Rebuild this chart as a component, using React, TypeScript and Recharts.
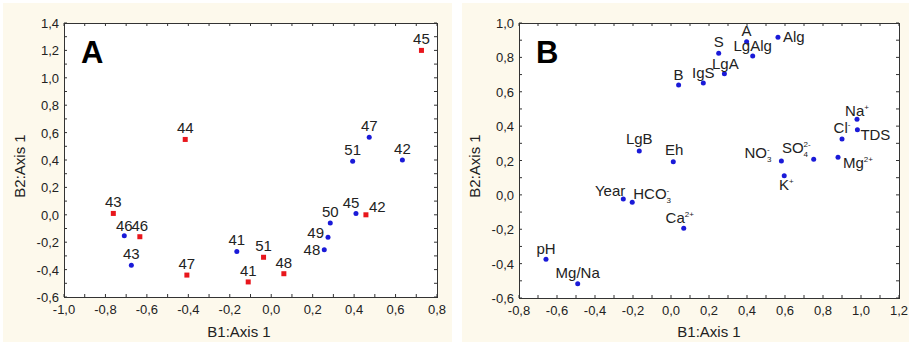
import React from "react";
import { Scatter, ScatterChart, XAxis, YAxis } from "recharts";

// Panel A: sample scores (red squares / blue circles)
const A_RED_LABELS = ["45", "44", "43", "46", "47", "41", "51", "48", "42"];
const A_RED_X = [0.725, -0.415, -0.762, -0.634, -0.407, -0.111, -0.037, 0.061, 0.457];
const A_RED_Y = [1.2, 0.55, 0.01, -0.16, -0.44, -0.49, -0.31, -0.43, 0.0];

const A_BLUE_LABELS = ["47", "51", "42", "46", "43", "41", "50", "49", "48", "45"];
const A_BLUE_X = [0.473, 0.393, 0.633, -0.709, -0.675, -0.166, 0.285, 0.274, 0.256, 0.409];
const A_BLUE_Y = [0.566, 0.39, 0.4, -0.153, -0.369, -0.267, -0.06, -0.164, -0.255, 0.01];

// Panel B: variable loadings
const B_LABELS = ["A", "S", "LgAlg", "Alg", "LgA", "IgS", "B", "Na", "TDS", "Cl", "LgB", "Eh", "NO", "SO", "Mg", "K", "Year", "HCO", "Ca", "pH", "Mg/Na"];
const B_SUB = ["", "", "", "", "", "", "", "", "", "", "", "", "3", "4", "", "", "", "3", "", "", ""];
const B_SUP = ["", "", "", "", "", "", "", "+", "", "-", "", "", "-", "2-", "2+", "+", "", "-", "2+", "", ""];
const B_X = [0.398, 0.251, 0.43, 0.563, 0.281, 0.17, 0.04, 0.979, 0.981, 0.9, -0.167, 0.012, 0.581, 0.751, 0.879, 0.596, -0.251, -0.204, 0.067, -0.658, -0.491];
const B_Y = [0.891, 0.824, 0.808, 0.917, 0.705, 0.651, 0.639, 0.44, 0.379, 0.325, 0.255, 0.193, 0.197, 0.207, 0.219, 0.112, -0.024, -0.043, -0.194, -0.375, -0.517];

// axis ticks
const A_X_TICKS = [-1.0, -0.9, -0.8, -0.7, -0.6, -0.5, -0.4, -0.3, -0.2, -0.1, 0.0, 0.1, 0.2, 0.3, 0.4, 0.5, 0.6, 0.7, 0.8];
const A_Y_TICKS = [-0.6, -0.5, -0.4, -0.3, -0.2, -0.1, 0.0, 0.1, 0.2, 0.3, 0.4, 0.5, 0.6, 0.7, 0.8, 0.9, 1.0, 1.1, 1.2, 1.3, 1.4];
const B_X_TICKS = [-0.8, -0.7, -0.6, -0.5, -0.4, -0.3, -0.2, -0.1, 0.0, 0.1, 0.2, 0.3, 0.4, 0.5, 0.6, 0.7, 0.8, 0.9, 1.0, 1.1, 1.2];
const B_Y_TICKS = [-0.6, -0.5, -0.4, -0.3, -0.2, -0.1, 0.0, 0.1, 0.2, 0.3, 0.4, 0.5, 0.6, 0.7, 0.8, 0.9, 1.0];

const FONT = '"Liberation Sans", Arial, sans-serif';
const RED = "#e8161c";
const BLUE = "#1a1ad8";
const INK = "#222";
const CREAM = "#fdf9ec";

type Place = [string, number, number]; // anchor, dx, dy
const TOP: Place = ["middle", 0, -6];

const A_RED_PLACE: Place[] = [TOP, TOP, TOP, TOP, TOP, TOP, TOP, TOP, ["start", 3, -3]];
const A_BLUE_PLACE: Place[] = [TOP, TOP, TOP, ["middle", 0, -5], TOP, TOP, TOP, ["end", -4, 1], ["end", -4, 5], ["middle", -5, -5]];
const B_PLACE: Place[] = [
  TOP, TOP, ["middle", 0, -5], ["start", 5, 5], ["middle", 1, -5], ["middle", 0, -5], ["middle", 0, -5],
  ["middle", 0, -3], ["start", 3, 10], TOP, ["middle", 0, -7], ["middle", 1, -7], ["end", -10, -3],
  ["end", -3, -6], ["start", 5, 11], ["middle", 2, 14], ["end", 2, -3], ["start", 1, -3],
  ["middle", -4, -5], ["middle", 0, -5], TOP,
];

const fmt = (v: number) => {
  const r = Math.round(v * 10) / 10;
  return (Math.abs(r) < 1e-9 ? 0 : r).toFixed(1).replace(".", ",");
};
const labelled = (v: number) => Math.abs(Math.round(v * 10)) % 2 === 0;

const makeXTick = (plotH: number) => (props: any) => {
  const { x, y, payload } = props;
  return (
    <g>
      <line x1={x} x2={x} y1={y} y2={y - 3} stroke="#333" />
      <line x1={x} x2={x} y1={y - plotH} y2={y - plotH + 3} stroke="#333" />
      {labelled(payload.value) && (
        <text x={x} y={y + 17} textAnchor="middle" fontSize={13} fill={INK} fontFamily={FONT}>
          {fmt(payload.value)}
        </text>
      )}
    </g>
  );
};

const makeYTick = (plotW: number) => (props: any) => {
  const { x, y, payload } = props;
  return (
    <g>
      <line x1={x} x2={x + 3} y1={y} y2={y} stroke="#333" />
      <line x1={x + plotW} x2={x + plotW - 3} y1={y} y2={y} stroke="#333" />
      {labelled(payload.value) && (
        <text x={x - 5} y={y + 5} textAnchor="end" fontSize={13} fill={INK} fontFamily={FONT}>
          {fmt(payload.value)}
        </text>
      )}
    </g>
  );
};

interface Pt {
  x: number;
  y: number;
  label: string;
  sub: string;
  sup: string;
  place: Place;
}

function LabelText({ p }: { p: Pt }) {
  const small = 8;
  return (
    <>
      {p.label}
      {p.sub && <tspan fontSize={small} dy={4}>{p.sub}</tspan>}
      {p.sub && p.sup && <tspan fontSize={small} dx={-4.5} dy={-10}>{p.sup}</tspan>}
      {!p.sub && p.sup && <tspan fontSize={small} dy={-6}>{p.sup}</tspan>}
    </>
  );
}

const makeShape = (kind: "square" | "circle", color: string) => (props: any) => {
  const { cx, cy, payload } = props;
  const p = payload as Pt;
  const [anchor, dx, dy] = p.place;
  return (
    <g>
      {kind === "square" ? (
        <rect x={cx - 2.5} y={cy - 2.5} width={5} height={5} fill={color} />
      ) : (
        <circle cx={cx} cy={cy} r={2.5} fill={color} />
      )}
      <text x={cx + dx} y={cy + dy} textAnchor={anchor as any} fontSize={15} fill={INK} fontFamily={FONT}>
        <LabelText p={p} />
      </text>
    </g>
  );
};

const build = (labels: string[], xs: number[], ys: number[], places: Place[], subs?: string[], sups?: string[]): Pt[] =>
  labels.map((label, i) => ({
    x: xs[i],
    y: ys[i],
    label,
    sub: subs ? subs[i] : "",
    sup: sups ? sups[i] : "",
    place: places[i],
  }));

interface SeriesDef {
  name: string;
  data: Pt[];
  kind: "square" | "circle";
  color: string;
}

interface PanelProps {
  left: number;
  width: number;
  margin: { top: number; right: number; bottom: number; left: number };
  xDomain: [number, number];
  yDomain: [number, number];
  xTicks: number[];
  yTicks: number[];
  series: SeriesDef[];
  letter: string;
  xTitleX: number;
}

const H = 342;
const X_AXIS_H = 30;
const Y_AXIS_W = 40;

function Panel(props: PanelProps) {
  const { left, width, margin, xDomain, yDomain, xTicks, yTicks, series, letter, xTitleX } = props;
  const plotL = margin.left + Y_AXIS_W;
  const plotT = margin.top;
  const plotW = width - margin.right - plotL;
  const plotH = H - margin.bottom - X_AXIS_H - plotT;
  return (
    <div style={{ position: "absolute", left, top: 0, width, height: H }}>
      <div
        style={{
          position: "absolute",
          left: plotL,
          top: plotT,
          width: plotW + 1,
          height: plotH + 1,
          boxSizing: "border-box",
          background: "#fff",
          border: "1px solid #333",
        }}
      />
      <div style={{ position: "absolute", left: 0, top: 0 }}>
        <ScatterChart width={width} height={H} margin={margin}>
          <XAxis
            type="number"
            dataKey="x"
            domain={xDomain}
            ticks={xTicks}
            interval={0}
            allowDataOverflow
            axisLine={false}
            tickLine={false}
            tickSize={0}
            tickMargin={0}
            height={X_AXIS_H}
            tick={makeXTick(plotH)}
          />
          <YAxis
            type="number"
            dataKey="y"
            domain={yDomain}
            ticks={yTicks}
            interval={0}
            allowDataOverflow
            axisLine={false}
            tickLine={false}
            tickSize={0}
            tickMargin={0}
            width={Y_AXIS_W}
            tick={makeYTick(plotW)}
          />
          {series.map((s) => (
            <Scatter
              key={s.name}
              name={s.name}
              data={s.data}
              isAnimationActive={false}
              shape={makeShape(s.kind, s.color)}
            />
          ))}
        </ScatterChart>
      </div>
      <svg
        width={width}
        height={H}
        style={{ position: "absolute", left: 0, top: 0, pointerEvents: "none" }}
      >
        <text x={plotL + 17} y={63} fontSize={31} fontWeight="bold" fill="#000" fontFamily={FONT}>
          {letter}
        </text>
        <text x={xTitleX} y={337} textAnchor="middle" fontSize={15} fill={INK} fontFamily={FONT}>
          B1:Axis 1
        </text>
        <text
          x={25}
          y={166}
          textAnchor="middle"
          fontSize={15}
          fill={INK}
          fontFamily={FONT}
          transform={`rotate(-90 25 166)`}
        >
          B2:Axis 1
        </text>
      </svg>
    </div>
  );
}

export default function App() {
  const aSeries: SeriesDef[] = [
    { name: "red", data: build(A_RED_LABELS, A_RED_X, A_RED_Y, A_RED_PLACE), kind: "square", color: RED },
    { name: "blue", data: build(A_BLUE_LABELS, A_BLUE_X, A_BLUE_Y, A_BLUE_PLACE), kind: "circle", color: BLUE },
  ];
  const bSeries: SeriesDef[] = [
    { name: "vars", data: build(B_LABELS, B_X, B_Y, B_PLACE, B_SUB, B_SUP), kind: "circle", color: BLUE },
  ];
  return (
    <div style={{ position: "relative", width: 909, height: 342, background: "#fff", overflow: "hidden" }}>
      <style>{`body{margin:0}`}</style>
      <div style={{ position: "absolute", left: 3, top: 3, width: 449, height: 339, background: CREAM }} />
      <div style={{ position: "absolute", left: 462, top: 3, width: 447, height: 339, background: CREAM }} />
      <Panel
        left={0}
        width={455}
        margin={{ top: 23, right: 18, bottom: 15, left: 24 }}
        xDomain={[-1.0, 0.8]}
        yDomain={[-0.6, 1.4]}
        xTicks={A_X_TICKS}
        yTicks={A_Y_TICKS}
        series={aSeries}
        letter="A"
        xTitleX={239}
      />
      <Panel
        left={455}
        width={454}
        margin={{ top: 23, right: 10, bottom: 14, left: 24 }}
        xDomain={[-0.8, 1.2]}
        yDomain={[-0.6, 1.0]}
        xTicks={B_X_TICKS}
        yTicks={B_Y_TICKS}
        series={bSeries}
        letter="B"
        xTitleX={254}
      />
    </div>
  );
}
